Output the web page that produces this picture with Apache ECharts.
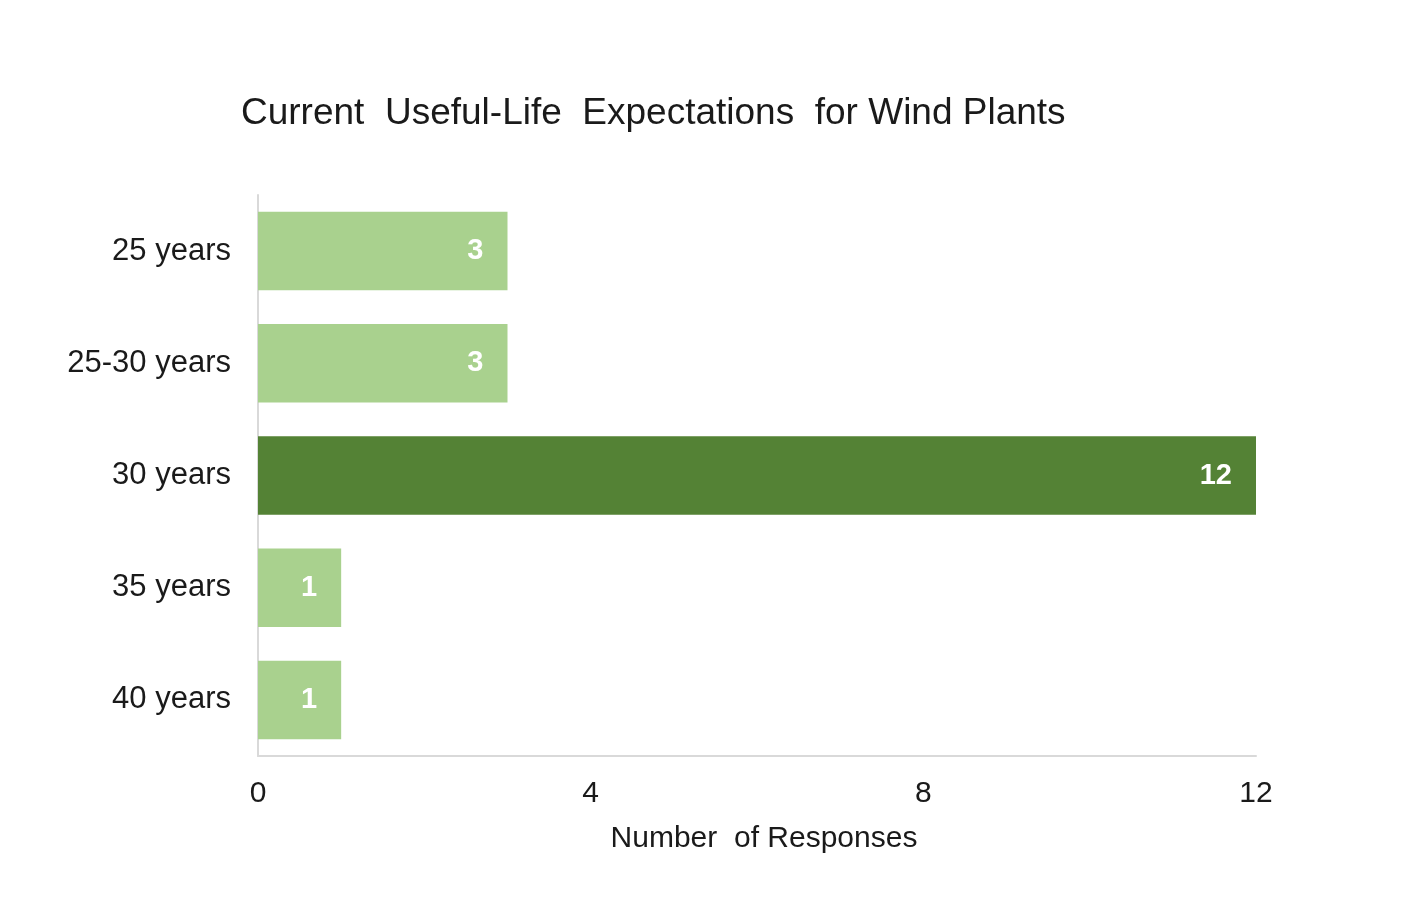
<!DOCTYPE html>
<html>
<head>
<meta charset="utf-8">
<script src="https://cdn.jsdelivr.net/npm/echarts@6/dist/echarts.min.js"></script>
<style>html,body{margin:0;padding:0;background:#fff;}#c{width:1420px;height:920px;}</style>
</head>
<body>
<div id="c"></div>
<script>
const categories = ['25 years', '25-30 years', '30 years', '35 years', '40 years'];
const responses = [3, 3, 12, 1, 1];
const highlight = [false, false, true, false, false];
const xTicks = [0, 4, 8, 12];

const chart = echarts.init(document.getElementById('c'));
chart.setOption({
  backgroundColor: '#ffffff',
  animation: false,
  title: {
    text: 'Current  Useful-Life  Expectations  for Wind Plants',
    left: 236, top: 90,
    textStyle: { fontFamily: 'Liberation Sans', fontSize: 37, fontWeight: 'normal', color: '#1a1a1a' }
  },
  grid: { left: 258, right: 164, top: 195, height: 561, containLabel: false },
  xAxis: {
    type: 'value', min: xTicks[0], max: xTicks[xTicks.length - 1], interval: 4,
    name: 'Number  of Responses', nameLocation: 'middle', nameGap: 68,
    nameTextStyle: { fontFamily: 'Liberation Sans', fontSize: 30, color: '#1a1a1a', padding: [0, 0, 0, 14] },
    axisLine: { show: true, lineStyle: { color: '#d9d9d9', width: 2 } },
    axisTick: { show: false },
    splitLine: { show: false },
    axisLabel: { margin: 23, fontFamily: 'Liberation Sans', fontSize: 30, color: '#1a1a1a' }
  },
  yAxis: {
    type: 'category', data: categories, inverse: true,
    axisLine: { show: true, lineStyle: { color: '#d9d9d9', width: 2 } },
    axisTick: { show: false },
    axisLabel: { margin: 27, fontFamily: 'Liberation Sans', fontSize: 31, color: '#1a1a1a' }
  },
  series: [{
    type: 'bar',
    data: responses.map((v, i) => ({
      value: v,
      itemStyle: { color: highlight[i] ? '#548235' : '#A9D18E' }
    })),
    barCategoryGap: '30%',
    label: {
      show: true, position: 'insideRight', distance: 24,
      fontFamily: 'Liberation Sans', fontSize: 29, fontWeight: 'bold', color: '#ffffff'
    }
  }]
});
</script>
</body>
</html>
